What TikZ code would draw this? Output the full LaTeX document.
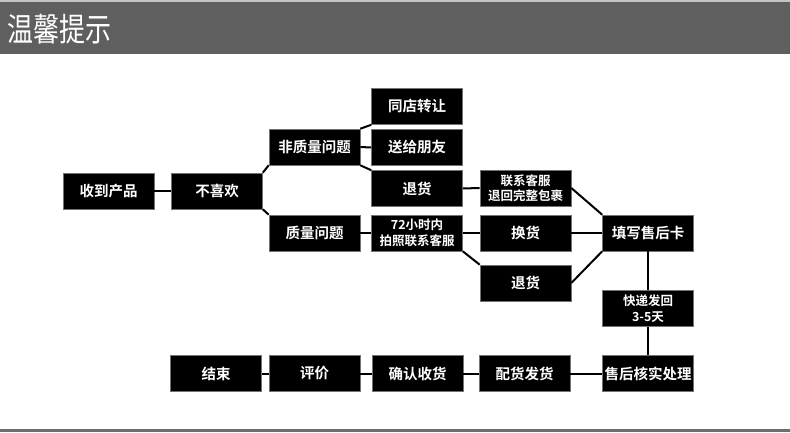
\documentclass[tikz,border=0pt]{standalone}
\usepackage{fontspec}
\newfontfamily\cjk{Noto Sans CJK SC}
\newfontfamily\cjkb{Noto Sans CJK SC Bold}
\definecolor{hdr}{HTML}{5F5F5F}
\definecolor{hdrtop}{HTML}{C4C4C4}
\definecolor{botline}{HTML}{6E6E6E}
\begin{document}
\begin{tikzpicture}[x=1pt,y=-1pt,
  box/.style={rectangle, fill=black, draw=black!55, line width=0.6pt,
    minimum width=91pt, minimum height=36pt, inner sep=0pt,
    text=white, font=\cjkb\fontsize{14.5}{16}\selectfont, align=center},
  small/.style={font=\cjkb\fontsize{12.5}{15.5}\selectfont},
  conn/.style={line width=2pt, black}]
\useasboundingbox (0,0) rectangle (790,433);
% header
\fill[hdrtop] (0,0) rectangle (790,2);
\fill[hdr] (0,2) rectangle (790,54);
\node[anchor=west, text=white, inner sep=0pt, font=\cjk\fontsize{26}{26}\selectfont,
  yscale=1.25, transform shape] (title) at (7,29) {温馨提示};
\fill[botline] (0,428.5) rectangle (790,431.5);
% nodes
\node[box] (a) at (108.5,191) {收到产品};
\node[box] (b) at (217,191) {不喜欢};
\node[box] (c) at (314.5,147) {非质量问题};
\node[box] (d) at (314.5,233) {质量问题};
\node[box] (e) at (417,106.5) {同店转让};
\node[box] (f) at (417,147.5) {送给朋友};
\node[box] (g) at (417,188.5) {退货};
\node[box,small] (h) at (525.5,188) {联系客服\\退回完整包裹};
\node[box,small] (i) at (417,233) {72小时内\\拍照联系客服};
\node[box] (j) at (525.5,233) {换货};
\node[box] (k) at (525.5,283) {退货};
\node[box] (l) at (648,233) {填写售后卡};
\node[box,small] (m) at (648,308.5) {快递发回\\3-5天};
\node[box] (n) at (648,373.5) {售后核实处理};
\node[box] (o) at (524.5,373.5) {配货发货};
\node[box] (p) at (417.5,373.5) {确认收货};
\node[box] (q) at (314.5,373.5) {评价};
\node[box] (r) at (216,373.5) {结束};
% connectors
\begin{scope}[on background layer/.style={}]
\draw[conn] (a.east) -- (b.west);
\draw[conn] (b.north east) -- (c.south west);
\draw[conn] (b.south east) -- (d.north west);
\draw[conn] (c.north east) -- (e.south west);
\draw[conn] (c.east) -- (f.west);
\draw[conn] (c.south east) -- (g.north west);
\draw[conn] (g.east) -- (h.west);
\draw[conn] (h.east) -- (l.north west);
\draw[conn] (d.east) -- (i.west);
\draw[conn] (i.east) -- (j.west);
\draw[conn] (i.south east) -- (k.north west);
\draw[conn] (j.east) -- (l.west);
\draw[conn] (k.east) -- (l.south west);
\draw[conn] (l.south) -- (m.north);
\draw[conn] (m.south) -- (n.north);
\draw[conn] (n.west) -- (o.east);
\draw[conn] (o.west) -- (p.east);
\draw[conn] (p.west) -- (q.east);
\draw[conn] (q.west) -- (r.east);
\end{scope}
\end{tikzpicture}
\end{document}
